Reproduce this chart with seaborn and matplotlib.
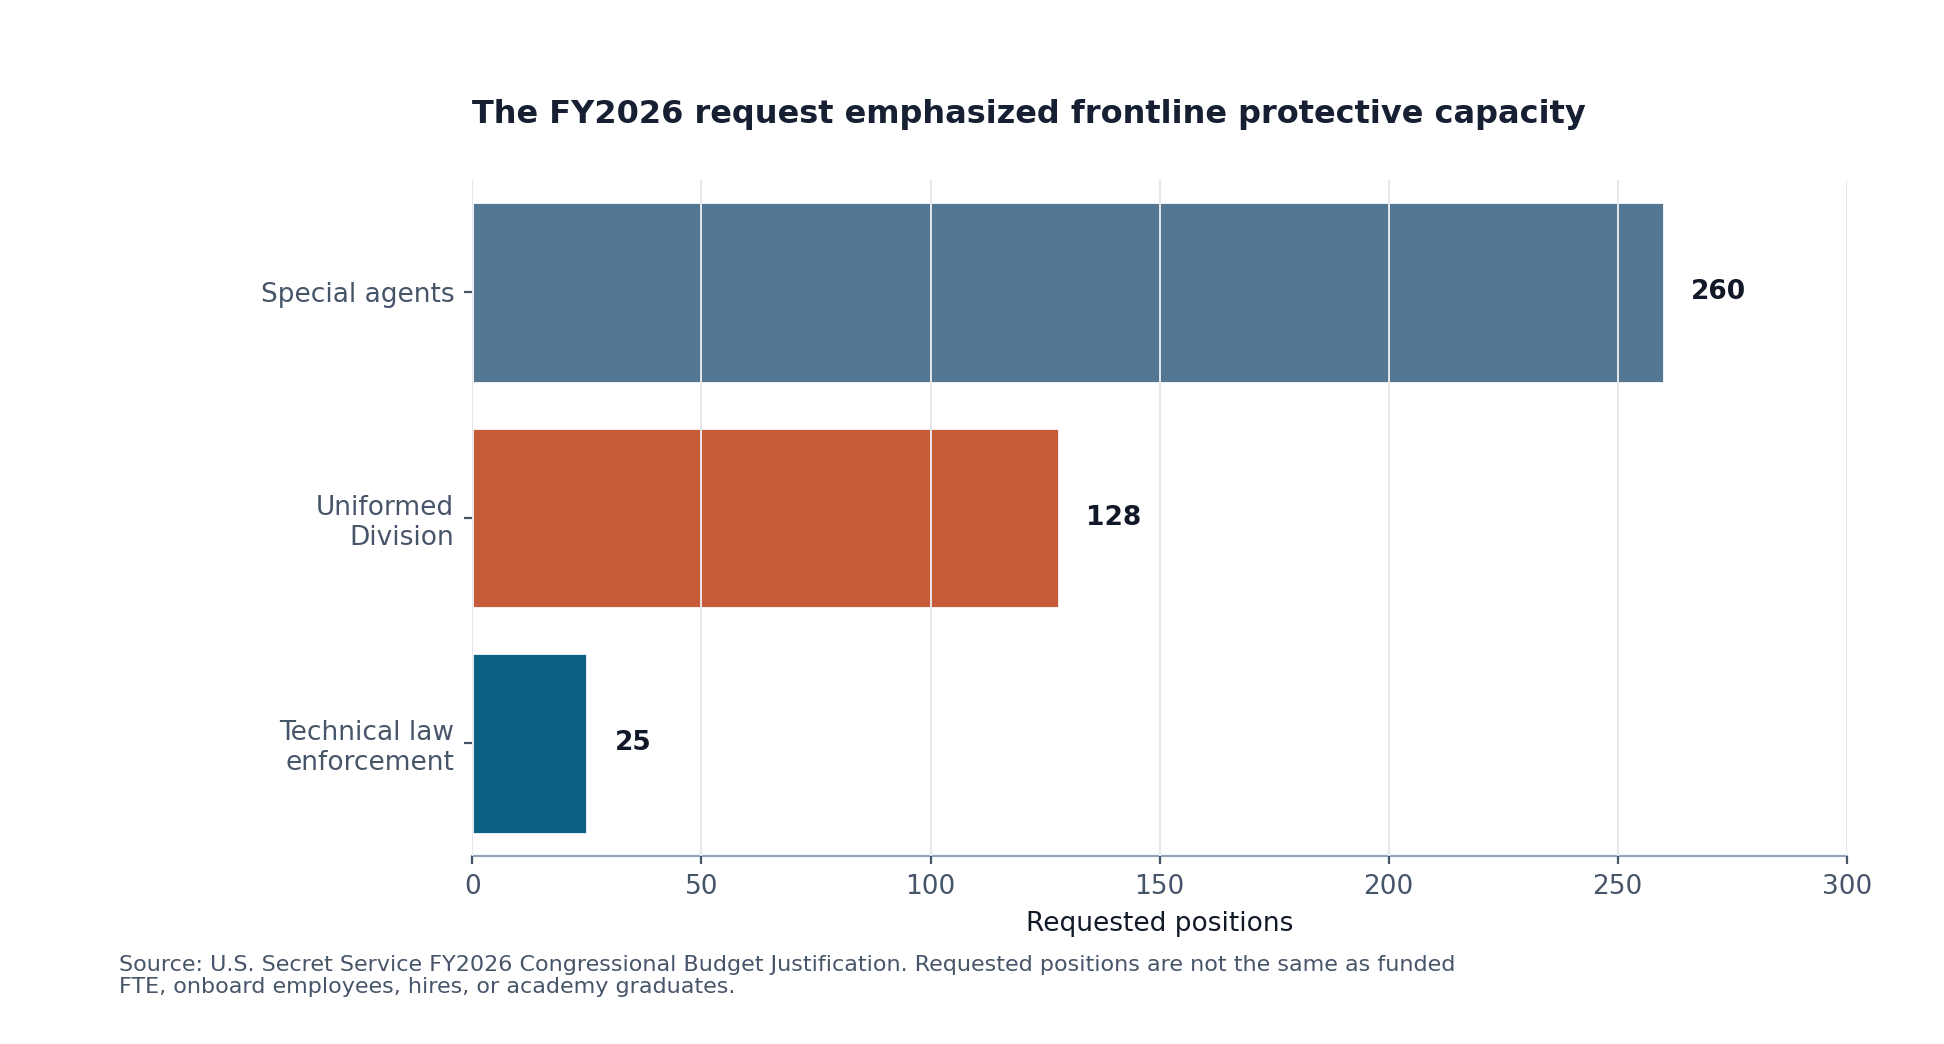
import matplotlib
matplotlib.use("Agg")
import matplotlib.pyplot as plt
import seaborn as sns
import pandas as pd

categories = ["Special agents", "Uniformed\nDivision", "Technical law\nenforcement"]
values = [260, 128, 25]
colors = ["#537792", "#c65b3a", "#0b6184"]

sns.set_theme(style="white")
plt.rcParams['font.family'] = ['DejaVu Sans']

fig = plt.figure(figsize=(9.72, 5.22), dpi=200)
ax = fig.add_axes([0.243, 0.18, 0.707, 0.648])
df = pd.DataFrame({"cat": categories, "val": values})
sns.barplot(data=df, y="cat", x="val", hue="cat", palette=colors, legend=False,
            ax=ax, width=0.8, saturation=1)
ax.set_xlim(0, 300)
ax.set_xticks([0, 50, 100, 150, 200, 250, 300])
ax.set_axisbelow(False)
ax.grid(axis="x", color="#e5e7eb", linewidth=0.7)
for s in ["top", "right", "left"]:
    ax.spines[s].set_visible(False)
ax.spines["bottom"].set_color("#94a3b8")
ax.spines["bottom"].set_linewidth(0.8)
ax.tick_params(axis="both", colors="#475569", labelsize=9.5, length=3, width=0.8,
               labelcolor="#475569", left=True, bottom=True)
ax.tick_params(axis="y", colors="#475569")
ax.set_ylabel("")
ax.set_xlabel("Requested positions", fontsize=9.5, color="#111827")
for i, v in enumerate(values):
    ax.text(v + 6, i, f"{v}", va="center", ha="left", fontsize=9.5,
            fontweight="bold", color="#111827")
fig.text(0.243, 0.875, "The FY2026 request emphasized frontline protective capacity",
         fontsize=11.5, fontweight="bold", color="#172033", ha="left", va="bottom")
fig.text(0.061, 0.045, "Source: U.S. Secret Service FY2026 Congressional Budget Justification. Requested positions are not the same as funded\nFTE, onboard employees, hires, or academy graduates.",
         fontsize=8, color="#475569", ha="left", va="bottom", linespacing=1.1)
fig.savefig("out.png", dpi=200)
